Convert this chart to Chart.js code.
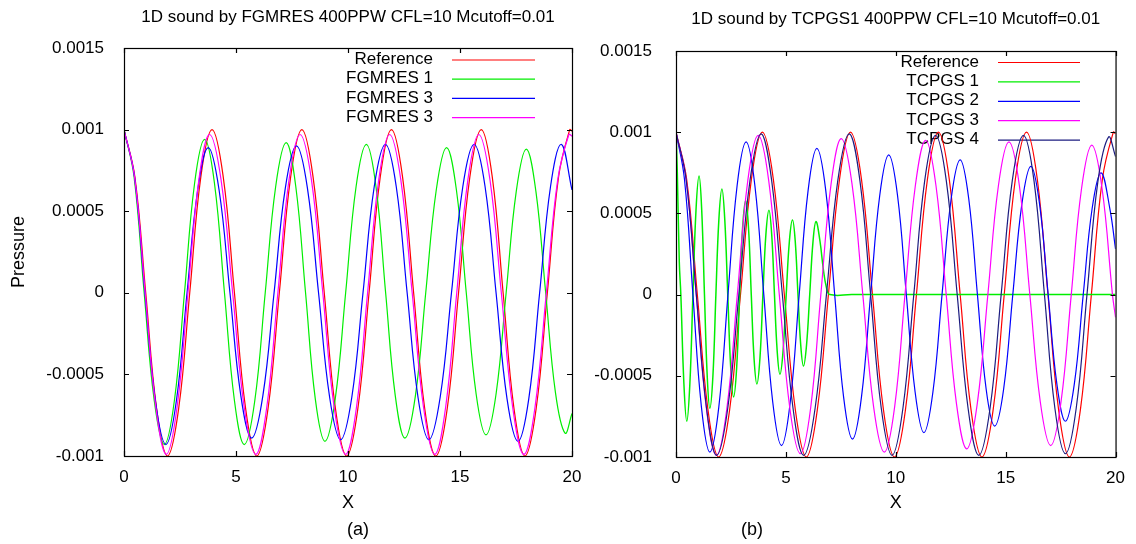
<!DOCTYPE html>
<html><head><meta charset="utf-8">
<script src="https://cdn.jsdelivr.net/npm/chart.js@4.4.1/dist/chart.umd.min.js"></script>
<style>
html,body{margin:0;padding:0;background:#fff;overflow:hidden}
#wrap{position:relative;width:1136px;height:544px;background:#fff}
#ca{position:absolute;left:0;top:0}
#cb{position:absolute;left:560px;top:0}
</style></head>
<body><div id="wrap"><canvas id="ca" width="600" height="544"></canvas><canvas id="cb" width="576" height="544"></canvas></div>
<script>
// ---- axes ----
const xTickValues = [0, 5, 10, 15, 20];
const xTickLabels = ['0', '5', '10', '15', '20'];
const yTickValues = [-0.001, -0.0005, 0, 0.0005, 0.001, 0.0015];
const yTickLabels = ['-0.001', '-0.0005', '0', '0.0005', '0.001', '0.0015'];

// ---- series: [x, pressure] ----
const reference = [
[0,0.00100],[0.485,0.00071],[0.97,0],[1.455,-0.00071],[1.94,-0.00100],
[2.44,-0.00071],[2.935,0],[3.43,0.00071],[3.93,0.00100],
[4.43,0.00071],[4.93,0],[5.43,-0.00071],[5.93,-0.00100],
[6.43,-0.00071],[6.935,0],[7.44,0.00071],[7.94,0.00100],
[8.44,0.00071],[8.94,0],[9.44,-0.00071],[9.94,-0.00100],
[10.44,-0.00071],[10.94,0],[11.44,0.00071],[11.94,0.00100],
[12.435,0.00071],[12.93,0],[13.425,-0.00071],[13.92,-0.00100],
[14.43,-0.00071],[14.935,0],[15.44,0.00071],[15.95,0.00100],
[16.44,0.00071],[16.925,0],[17.41,-0.00071],[17.90,-0.00100],
[18.40,-0.00071],[18.90,0],[19.40,0.00071],[19.90,0.00100],
[20,0.00099]
];
const fgmres1 = [
[0,0.00100],[0.45,0.00071],[0.90,0],[1.35,-0.00066],[1.80,-0.00093],
[2.25,-0.00066],[2.70,0],[3.15,0.00067],[3.60,0.00094],
[4.04,0.00067],[4.485,0],[4.93,-0.00066],[5.37,-0.00093],
[5.84,-0.00066],[6.305,0],[6.77,0.00065],[7.24,0.00092],
[7.67,0.00065],[8.105,0],[8.54,-0.00065],[8.97,-0.00091],
[9.43,-0.00065],[9.895,0],[10.36,0.00065],[10.82,0.00091],
[11.25,0.00065],[11.68,0],[12.11,-0.00063],[12.54,-0.00089],
[13.01,-0.00063],[13.47,0],[13.94,0.00063],[14.40,0.00089],
[14.84,0.00063],[15.28,0],[15.72,-0.00062],[16.16,-0.00087],
[16.61,-0.00062],[17.06,0],[17.51,0.00062],[17.96,0.00088],
[18.39,0.00062],[18.825,0],[19.26,-0.00061],[19.69,-0.00086],
[20,-0.00074]
];
const fgmres3 = [
[0,0.00100],[0.47,0.00071],[0.935,0],[1.40,-0.00066],[1.87,-0.00093],
[2.34,-0.00066],[2.815,0],[3.29,0.00063],[3.76,0.00089],
[4.245,0.00063],[4.73,0],[5.215,-0.00063],[5.70,-0.00089],
[6.20,-0.00063],[6.70,0],[7.20,0.00064],[7.70,0.00090],
[8.19,0.00064],[8.685,0],[9.18,-0.00064],[9.67,-0.00090],
[10.17,-0.00064],[10.67,0],[11.17,0.00065],[11.67,0.00091],
[12.155,0.00065],[12.64,0],[13.125,-0.00064],[13.61,-0.00090],
[14.115,-0.00064],[14.62,0],[15.125,0.00065],[15.63,0.00091],
[16.12,0.00065],[16.61,0],[17.10,-0.00065],[17.59,-0.00091],
[18.07,-0.00065],[18.555,0],[19.04,0.00065],[19.52,0.00091],
[20,0.00063]
];
const fgmres3b = [
[0,0.00100],[0.47,0.00071],[0.945,0],[1.42,-0.00070],[1.89,-0.00099],
[2.37,-0.00070],[2.855,0],[3.34,0.00069],[3.82,0.00097],
[4.335,0.00069],[4.85,0],[5.365,-0.00070],[5.88,-0.00099],
[6.375,-0.00070],[6.87,0],[7.365,0.00069],[7.86,0.00097],
[8.37,0.00069],[8.875,0],[9.38,-0.00070],[9.89,-0.00099],
[10.38,-0.00070],[10.875,0],[11.37,0.00069],[11.86,0.00097],
[12.36,0.00069],[12.865,0],[13.37,-0.00070],[13.87,-0.00099],
[14.36,-0.00070],[14.855,0],[15.35,0.00069],[15.84,0.00097],
[16.34,0.00069],[16.845,0],[17.35,-0.00070],[17.85,-0.00099],
[18.35,-0.00070],[18.855,0],[19.36,0.00069],[19.86,0.00097],
[20,0.00096]
];
const tcpgs1 = [
[0,0.00100],[0.06,0.00075],[0.15,0.00020],[0.22,0],[0.36,-0.00055],[0.49,-0.00078],
[0.63,-0.00055],[0.77,0],[0.91,0.00052],[1.05,0.00073],
[1.17,0.00052],[1.295,0],[1.42,-0.00050],[1.54,-0.00070],
[1.68,-0.00050],[1.815,0],[1.95,0.00046],[2.09,0.00065],
[2.22,0.00046],[2.355,0],[2.49,-0.00045],[2.62,-0.00063],
[2.76,-0.00045],[2.895,0],[3.03,0.00041],[3.17,0.00058],
[3.30,0.00041],[3.425,0],[3.55,-0.00039],[3.68,-0.00055],
[3.82,-0.00039],[3.955,0],[4.09,0.00037],[4.23,0.00052],
[4.355,0.00037],[4.48,0],[4.605,-0.00035],[4.73,-0.00049],
[4.87,-0.00035],[5.015,0],[5.16,0.00033],[5.30,0.00046],
[5.425,0.00033],[5.55,0],[5.675,-0.00031],[5.80,-0.00044],
[5.94,-0.00031],[6.085,0],[6.23,0.00032],[6.37,0.00045],
[6.55,0.00033],[6.70,0.00016],[6.85,0.00004],[7.00,0],
[8,0],[10,0],[12,0],[14,0],[16,0],[18,0],[20,0]
];
const tcpgs2 = [
[0,0.00100],[0.385,0.00071],[0.77,0],[1.155,-0.00069],[1.54,-0.00097],
[1.95,-0.00069],[2.365,0],[2.78,0.00067],[3.19,0.00094],
[3.59,0.00067],[3.995,0],[4.40,-0.00066],[4.80,-0.00093],
[5.20,-0.00066],[5.605,0],[6.01,0.00064],[6.41,0.00090],
[6.815,0.00064],[7.22,0],[7.625,-0.00063],[8.03,-0.00089],
[8.44,-0.00063],[8.855,0],[9.27,0.00061],[9.68,0.00086],
[10.08,0.00061],[10.48,0],[10.88,-0.00060],[11.28,-0.00085],
[11.69,-0.00060],[12.105,0],[12.52,0.00059],[12.93,0.00083],
[13.32,0.00059],[13.715,0],[14.11,-0.00058],[14.50,-0.00081],
[14.91,-0.00058],[15.325,0],[15.74,0.00056],[16.15,0.00079],
[16.54,0.00056],[16.935,0],[17.33,-0.00055],[17.72,-0.00078],
[18.125,-0.00055],[18.53,0],[18.935,0.00053],[19.34,0.00075],
[19.74,0.00053],[20,0.00028]
];
const tcpgs3 = [
[0,0.00100],[0.46,0.00071],[0.92,0],[1.38,-0.00070],[1.84,-0.00099],
[2.315,-0.00070],[2.79,0],[3.265,0.00070],[3.74,0.00098],
[4.22,0.00070],[4.70,0],[5.18,-0.00070],[5.66,-0.00098],
[6.125,-0.00070],[6.59,0],[7.055,0.00068],[7.52,0.00096],
[8.01,0.00068],[8.50,0],[8.99,-0.00069],[9.48,-0.00097],
[9.95,-0.00069],[10.42,0],[10.89,0.00067],[11.36,0.00095],
[11.83,0.00067],[12.295,0],[12.76,-0.00067],[13.23,-0.00095],
[13.71,-0.00067],[14.19,0],[14.67,0.00067],[15.15,0.00094],
[15.625,0.00067],[16.10,0],[16.575,-0.00066],[17.05,-0.00093],
[17.52,-0.00066],[17.985,0],[18.45,0.00065],[18.92,0.00092],
[19.39,0.00065],[19.86,0],[20,-0.00014]
];
const tcpgs4 = [
[0,0.00100],[0.46,0.00071],[0.925,0],[1.39,-0.00070],[1.85,-0.00099],
[2.355,-0.00070],[2.86,0],[3.365,0.00070],[3.87,0.00099],
[4.355,0.00070],[4.84,0],[5.325,-0.00070],[5.81,-0.00099],
[6.33,-0.00070],[6.845,0],[7.36,0.00070],[7.88,0.00099],
[8.37,0.00070],[8.855,0],[9.34,-0.00070],[9.83,-0.00099],
[10.325,-0.00070],[10.82,0],[11.315,0.00070],[11.81,0.00098],
[12.30,0.00070],[12.795,0],[13.29,-0.00070],[13.78,-0.00099],
[14.29,-0.00070],[14.795,0],[15.30,0.00070],[15.81,0.00098],
[16.29,0.00070],[16.765,0],[17.24,-0.00070],[17.72,-0.00098],
[18.21,-0.00070],[18.70,0],[19.19,0.00069],[19.68,0.00097],
[20,0.00085]
];

const seriesA = [
  {label: 'Reference', data: reference, color: '#ff0000', width: 1.2},
  {label: 'FGMRES 1', data: fgmres1, color: '#00ee00', width: 1.2},
  {label: 'FGMRES 3', data: fgmres3, color: '#0000ff', width: 1.2},
  {label: 'FGMRES 3', data: fgmres3b, color: '#ff00ff', width: 1.2}
];
const seriesB = [
  {label: 'Reference', data: reference, color: '#ff0000', width: 1.2},
  {label: 'TCPGS 1', data: tcpgs1, color: '#00ee00', width: 1.5},
  {label: 'TCPGS 2', data: tcpgs2, color: '#0000ff', width: 1.2},
  {label: 'TCPGS 3', data: tcpgs3, color: '#ff00ff', width: 1.2},
  {label: 'TCPGS 4', data: tcpgs4, color: '#1c1c80', width: 1.2}
];

const FONT = '"Liberation Sans", Arial, Helvetica, sans-serif';
Chart.defaults.font.family = FONT;
Chart.defaults.color = '#000';

const gnuplotLook = {
  id: 'gp',
  beforeDatasetsDraw(chart) {
    const o = chart.options.plugins.gp, ctx = chart.ctx;
    ctx.save();
    ctx.font = o.legendFont + 'px ' + FONT;
    ctx.textAlign = 'right'; ctx.textBaseline = 'middle'; ctx.fillStyle = '#000';
    chart.data.datasets.forEach((ds, i) => {
      const y = o.legendY + i * o.legendStep;
      ctx.fillText(ds.label, o.legendTextRight, y);
      ctx.strokeStyle = ds.borderColor; ctx.lineWidth = 1.2;
      ctx.beginPath(); ctx.moveTo(o.legendLine[0], y + 0.5); ctx.lineTo(o.legendLine[1], y + 0.5); ctx.stroke();
    });
    ctx.restore();
  },
  afterDraw(chart) {
    const o = chart.options.plugins.gp, ctx = chart.ctx, a = chart.chartArea;
    const xs = chart.scales.x, ys = chart.scales.y;
    ctx.save();
    ctx.strokeStyle = '#000'; ctx.lineWidth = 1.2;
    ctx.strokeRect(a.left + 0.5, a.top + 0.5, a.right - a.left, a.bottom - a.top);
    ctx.beginPath();
    const tl = 5;
    xTickValues.forEach(v => {
      const px = Math.round(xs.getPixelForValue(v)) + 0.5;
      ctx.moveTo(px, a.bottom); ctx.lineTo(px, a.bottom - tl);
      ctx.moveTo(px, a.top); ctx.lineTo(px, a.top + tl);
    });
    yTickValues.forEach(v => {
      const py = Math.round(ys.getPixelForValue(v)) + 0.5;
      ctx.moveTo(a.left, py); ctx.lineTo(a.left + tl, py);
      ctx.moveTo(a.right, py); ctx.lineTo(a.right - tl, py);
    });
    ctx.stroke();
    ctx.fillStyle = '#000'; ctx.textAlign = 'center'; ctx.textBaseline = 'middle';
    ctx.font = o.titleFont + 'px ' + FONT;
    ctx.fillText(o.title, (a.left + a.right) / 2, o.titleY);
    ctx.font = o.captionFont + 'px ' + FONT;
    ctx.fillText(o.caption, o.captionX, o.captionY);
    ctx.restore();
  }
};

function makeChart(id, series, cfg) {
  const n = series.length;
  return new Chart(document.getElementById(id), {
    type: 'line',
    data: {
      datasets: series.map((s, i) => ({
        label: s.label,
        data: s.data.map(p => ({x: p[0], y: p[1]})),
        borderColor: s.color,
        borderWidth: s.width,
        pointRadius: 0,
        tension: 0.4,
        fill: false,
        order: n - i
      }))
    },
    options: {
      responsive: false,
      animation: false,
      devicePixelRatio: 1,
      layout: {padding: {left: 0, right: cfg.padRight, top: cfg.padTop, bottom: 0}},
      plugins: {
        legend: {display: false},
        tooltip: {enabled: false},
        title: {display: false},
        gp: cfg.gp
      },
      scales: {
        x: {
          type: 'linear', min: 0, max: 20,
          afterBuildTicks: s => { s.ticks = xTickValues.map(v => ({value: v})); },
          afterFit: s => { s.height = cfg.xHeight; },
          ticks: {padding: 11, autoSkip: false, maxRotation: 0, font: {size: 17}, color: '#000',
                  callback: (v, i) => xTickLabels[i]},
          grid: {display: false, drawTicks: false, tickLength: 0},
          border: {display: false},
          title: {display: true, text: 'X', font: {size: 18}, color: '#000', padding: {top: 0, bottom: 30}}
        },
        y: {
          type: 'linear', min: -0.001, max: 0.0015,
          afterBuildTicks: s => { s.ticks = yTickValues.map(v => ({value: v})); },
          afterFit: s => { s.width = cfg.yWidth; },
          ticks: {padding: cfg.yPad, autoSkip: false, font: {size: 17}, color: '#000',
                  callback: (v, i) => yTickLabels[i]},
          grid: {display: false, drawTicks: false, tickLength: 0},
          border: {display: false},
          title: {display: cfg.yTitle, text: 'Pressure', font: {size: 18}, color: '#000', padding: {top: 8, bottom: 0}}
        }
      }
    },
    plugins: [gnuplotLook]
  });
}

makeChart('ca', seriesA, {
  padRight: 28, padTop: 48, xHeight: 88, yWidth: 124, yPad: 20, yTitle: true,
  gp: {title: '1D sound by FGMRES 400PPW CFL=10 Mcutoff=0.01', titleY: 17, titleFont: 17,
       caption: '(a)', captionX: 358, captionY: 530, captionFont: 18,
       legendFont: 17, legendTextRight: 433, legendLine: [452, 535], legendY: 59.5, legendStep: 19.2}
});
makeChart('cb', seriesB, {
  padRight: 16, padTop: 51, xHeight: 87, yWidth: 116, yPad: 24, yTitle: false,
  gp: {title: '1D sound by TCPGS1 400PPW CFL=10 Mcutoff=0.01', titleY: 19, titleFont: 17,
       caption: '(b)', captionX: 192, captionY: 530, captionFont: 18,
       legendFont: 17, legendTextRight: 419, legendLine: [438, 520], legendY: 62, legendStep: 19.4}
});
</script>
</body></html>
